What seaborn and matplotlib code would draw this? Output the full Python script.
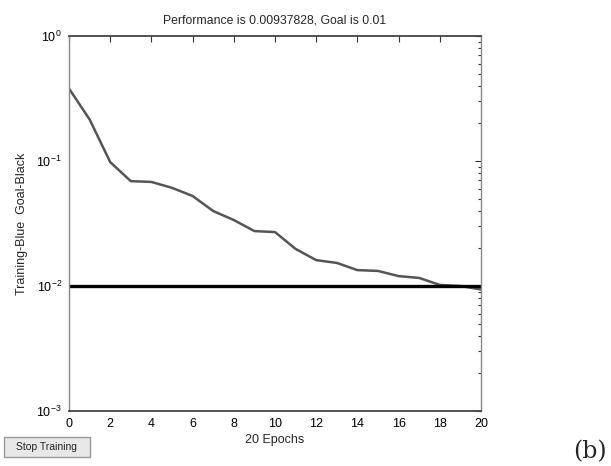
import matplotlib
matplotlib.use("Agg")
import matplotlib.pyplot as plt
import seaborn as sns
import pandas as pd
from matplotlib.patches import FancyBboxPatch
from matplotlib.ticker import LogLocator

epochs = [0, 1, 2, 3, 4, 5, 6, 7, 8, 9, 10, 11, 12, 13, 14, 15, 16, 17, 18, 19, 20]
performance = [0.38, 0.215, 0.098, 0.069, 0.068, 0.061, 0.0525, 0.0398, 0.0337, 0.0275,
               0.0270, 0.0198, 0.0161, 0.0153, 0.0134, 0.0132, 0.0120, 0.0116, 0.0102,
               0.0100, 0.00938]
goal = 0.01
title_text = "Performance is 0.00937828, Goal is 0.01"
xlabel_text = "20 Epochs"
ylabel_text = "Training-Blue  Goal-Black"
xticks = [0, 2, 4, 6, 8, 10, 12, 14, 16, 18, 20]

sns.set_style("white")
plt.rcParams['font.family'] = ['Liberation Sans', 'DejaVu Sans']

df = pd.DataFrame({"epoch": epochs, "perf": performance})

fig = plt.figure(figsize=(6.11, 4.66), dpi=100)
ax = fig.add_axes([69/611, 1-411/466, (481-69)/611, (411-36)/466])

sns.lineplot(data=df, x="epoch", y="perf", ax=ax, color="#555555", linewidth=1.8)
ax.axhline(goal, color="black", linewidth=2.4)

ax.set_yscale("log")
ax.set_ylim(1e-3, 1)
ax.set_xlim(0, 20)
ax.set_xticks(xticks)
ax.yaxis.set_major_locator(LogLocator(base=10, numticks=10))
ax.yaxis.set_minor_locator(LogLocator(base=10, subs=range(2, 10), numticks=20))
ax.tick_params(axis="both", which="both", direction="in", top=True, right=True,
               labelsize=9, colors="#333333")
ax.tick_params(axis="both", which="major", length=4, width=0.8, pad=5)
ax.tick_params(axis="y", which="minor", length=2, width=0.8)
ax.tick_params(axis="x", labelcolor="black")
ax.tick_params(axis="y", labelcolor="black")

for side in ["left", "right"]:
    ax.spines[side].set_color("#888888")
    ax.spines[side].set_linewidth(1.0)
for side in ["top", "bottom"]:
    ax.spines[side].set_color("#444444")
    ax.spines[side].set_linewidth(1.3)

ax.set_title(title_text, fontsize=8.8, pad=9)
ax.set_xlabel(xlabel_text, fontsize=9, labelpad=3)
ax.set_ylabel(ylabel_text, fontsize=9, labelpad=6)

# Stop Training button
btn = FancyBboxPatch((4/611, 1-457/466), 86/611, 20/466,
                     boxstyle="square,pad=0", transform=fig.transFigure,
                     facecolor="#e8e8e8", edgecolor="#999999", linewidth=1.0)
fig.patches.append(btn)
fig.text((4+90)/2/611, 1-447/466, "Stop Training", fontsize=7.5,
         ha="center", va="center")

fig.text(607/611, 1-452/466, "(b)", fontsize=17, family="DejaVu Serif",
         ha="right", va="center")

fig.savefig("out.png", dpi=100)
